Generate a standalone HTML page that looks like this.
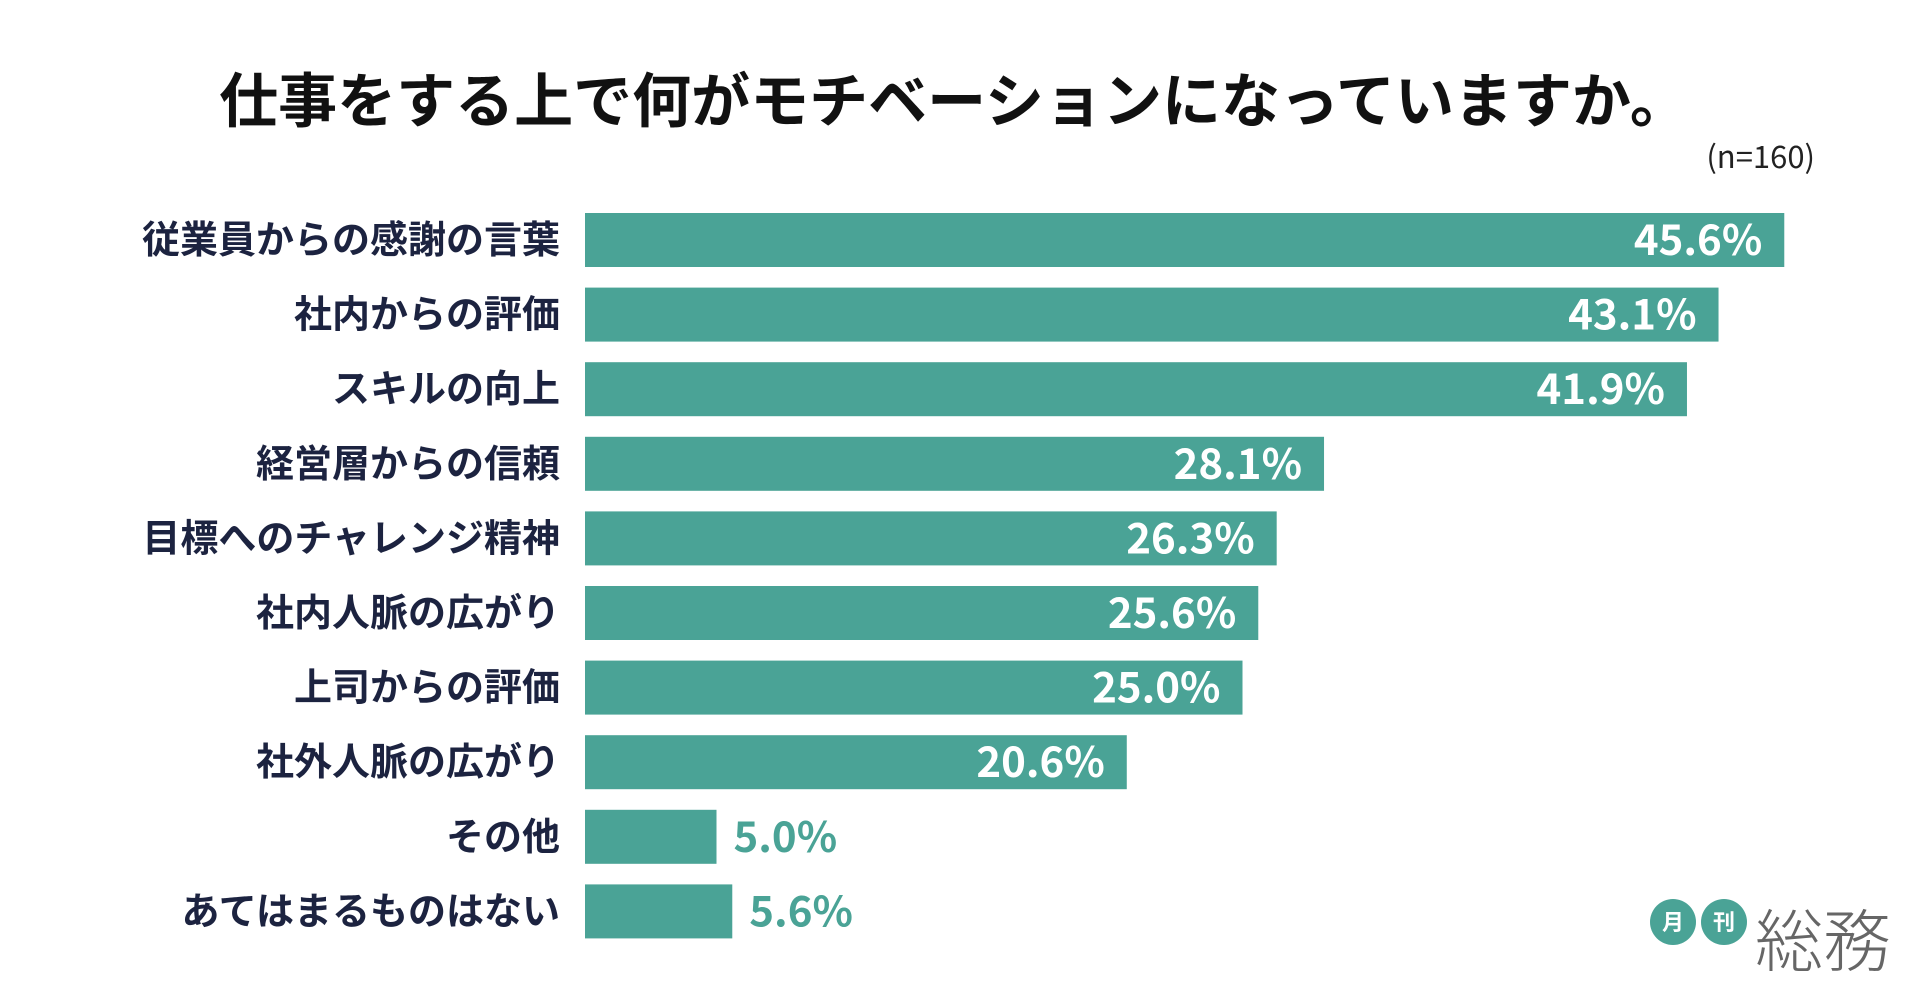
<!DOCTYPE html>
<html><head><meta charset="utf-8"><style>
body{margin:0;width:1920px;height:1005px;background:#fff;overflow:hidden;font-family:"Liberation Sans","Noto Sans CJK JP",sans-serif;}
#c{position:absolute;left:0;top:0}
</style></head><body>
<svg id="c" width="1920" height="1005">
<text x="954" y="122" text-anchor="middle" font-size="59" font-weight="bold" fill="#111" font-family="Noto Sans CJK JP, sans-serif">仕事をする上で何がモチベーションになっていますか。</text>
<text x="1815" y="168" text-anchor="end" font-size="31" fill="#222" font-family="Noto Sans CJK JP, sans-serif">(n=160)</text>
<g id="bars"></g>
<g>
<circle cx="1673" cy="922" r="23" fill="#4aa396"/>
<text x="1673" y="930" text-anchor="middle" font-size="22" font-weight="bold" fill="#fff" font-family="Noto Sans CJK JP, sans-serif">月</text>
<circle cx="1724" cy="922" r="23" fill="#4aa396"/>
<text x="1724" y="930" text-anchor="middle" font-size="22" font-weight="bold" fill="#fff" font-family="Noto Sans CJK JP, sans-serif">刊</text>
<text x="1755" y="966" font-size="68" font-weight="300" fill="#666" font-family="Noto Sans CJK JP, sans-serif">総務</text>
</g>
</svg>
<script>
const categories=["従業員からの感謝の言葉","社内からの評価","スキルの向上","経営層からの信頼","目標へのチャレンジ精神","社内人脈の広がり","上司からの評価","社外人脈の広がり","その他","あてはまるものはない"];
const values=[45.6,43.1,41.9,28.1,26.3,25.6,25.0,20.6,5.0,5.6];
const valueLabels=["45.6%","43.1%","41.9%","28.1%","26.3%","25.6%","25.0%","20.6%","5.0%","5.6%"];
const x0=585,pxPer=26.3,y0=213,pitch=74.6,bh=54;
const xs=v=>x0+v*pxPer, ys=i=>y0+i*pitch;
const g=document.getElementById('bars'),NS="http://www.w3.org/2000/svg";
categories.forEach((c,i)=>{
 const y=ys(i),w=xs(values[i])-x0;
 const r=document.createElementNS(NS,'rect');
 r.setAttribute('x',x0);r.setAttribute('y',y);r.setAttribute('width',w);r.setAttribute('height',bh);r.setAttribute('fill','#4aa396');
 
 
 g.appendChild(r);
 const l=document.createElementNS(NS,'text');
 l.setAttribute('x',560);l.setAttribute('y',y+bh/2+13);l.setAttribute('text-anchor','end');
 l.setAttribute('font-size','38');l.setAttribute('font-weight','bold');l.setAttribute('fill','#1c2340');
 l.setAttribute('font-family','Noto Sans CJK JP, sans-serif');
 l.textContent=c;
 
 
 g.appendChild(l);
 const v=document.createElementNS(NS,'text');
 const inside=values[i]>10;
 v.setAttribute('x',inside?xs(values[i])-22:xs(values[i])+17);
 v.setAttribute('y',y+bh/2+15);
 v.setAttribute('text-anchor',inside?'end':'start');
 v.setAttribute('font-size','42');v.setAttribute('font-weight','bold');
 v.setAttribute('fill',inside?'#fff':'#4aa396');
 v.setAttribute('font-family','Noto Sans CJK JP, sans-serif');
 v.textContent=valueLabels[i];
 
 
 g.appendChild(v);
});
</script>
</body></html>
